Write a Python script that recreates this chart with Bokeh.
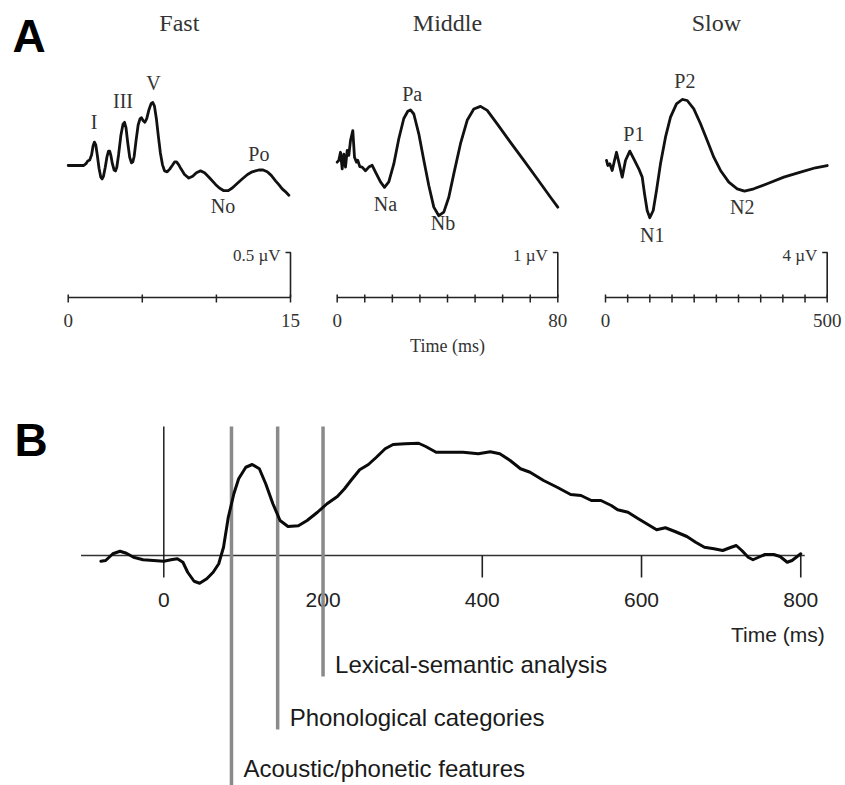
from bokeh.plotting import figure
from bokeh.models import Range1d, Label
from bokeh.core.properties import value
from bokeh.embed import file_html
from bokeh.resources import INLINE

# ---------------- data ----------------
# Panel A - Fast (time in ms, amplitude in µV)
fast_t = [0.00, 1.05, 1.20, 1.32, 1.45, 1.58, 1.68, 1.77, 1.86, 1.96, 2.08, 2.20, 2.29, 2.38,
          2.50, 2.62, 2.72, 2.80, 2.88, 2.98, 3.10, 3.19, 3.28, 3.40, 3.55, 3.70, 3.80, 3.90,
          4.02, 4.15, 4.27, 4.36, 4.45, 4.58, 4.72, 4.85, 4.95, 5.05, 5.17, 5.30, 5.45, 5.60,
          5.71, 5.82, 5.95, 6.08, 6.22, 6.36, 6.50, 6.68, 6.85, 7.02, 7.18, 7.31, 7.45, 7.62,
          7.85, 8.14, 8.40, 8.65, 8.93, 9.20, 9.50, 9.94, 10.20, 10.50, 10.80, 11.07, 11.40,
          11.74, 12.10, 12.42, 12.86, 13.15, 13.43, 13.70, 13.99, 14.20, 14.44, 14.65, 14.89]
fast_v = [0.00, 0.00, 0.02, 0.05, 0.06, 0.12, 0.22, 0.26, 0.23, 0.12, -0.03, -0.13, -0.15, -0.12,
          -0.02, 0.10, 0.16, 0.16, 0.11, 0.02, -0.05, -0.06, -0.02, 0.12, 0.33, 0.46, 0.48, 0.42,
          0.25, 0.09, 0.03, 0.04, 0.10, 0.28, 0.45, 0.52, 0.53, 0.50, 0.48, 0.52, 0.62, 0.69,
          0.70, 0.66, 0.52, 0.33, 0.14, 0.01, -0.06, -0.07, -0.04, 0.00, 0.04, 0.04, 0.01, -0.04,
          -0.10, -0.14, -0.12, -0.08, -0.06, -0.08, -0.13, -0.21, -0.25, -0.28, -0.28, -0.25,
          -0.20, -0.15, -0.10, -0.07, -0.05, -0.05, -0.07, -0.11, -0.17, -0.21, -0.26, -0.29,
          -0.33]
fast_peaks = ["I", "III", "V", "Po", "No"]
fast_peak_t = [1.75, 3.70, 5.76, 12.87, 10.45]
fast_peak_v = [0.39, 0.63, 0.83, 0.04, -0.54]
fast_ticks = [0, 5, 10, 15]
fast_tick_labels = ["0", "", "", "15"]
fast_scale = 0.5
fast_scale_label = "0.5 µV"

# Panel A - Middle
middle_t = [0.0, 0.58, 1.20, 1.81, 2.39, 3.01, 3.63, 4.21, 4.82, 5.66, 6.27, 7.00, 7.47, 8.20,
            9.07, 10.26, 11.46, 12.69, 13.89, 15.70, 17.15, 18.71, 20.53, 22.34, 24.15, 25.60,
            26.58, 27.78, 29.59, 31.41, 33.22, 35.03, 36.84, 38.66, 40.47, 42.28, 44.71, 47.14,
            49.54, 51.97, 54.40, 58.02, 62.85, 67.67, 72.53, 77.35, 80.0]
middle_v = [0.03, 0.07, 0.25, -0.12, 0.21, -0.08, 0.29, 0.18, 0.51, 0.73, 0.14, 0.03, 0.07, -0.07,
            -0.08, -0.16, -0.08, -0.04, -0.19, -0.41, -0.53, -0.41, -0.01, 0.55, 1.00, 1.16,
            1.19, 1.10, 0.66, 0.07, -0.49, -0.97, -1.16, -1.08, -0.75, -0.23, 0.44, 0.96,
            1.21, 1.27, 1.18, 0.88, 0.47, 0.07, -0.34, -0.75, -0.97]
middle_peaks = ["Pa", "Na", "Nb"]
middle_peak_t = [27.2, 17.5, 38.4]
middle_peak_v = [1.36, -1.08, -1.49]
middle_ticks = [0, 10, 20, 30, 40, 50, 60, 70, 80]
middle_tick_labels = ["0", "", "", "", "", "", "", "", "80"]
middle_scale = 1.0
middle_scale_label = "1 µV"

# Panel A - Slow
slow_t = [2.3, 5.2, 9.7, 15.1, 20.3, 24.8, 30.0, 37.7, 45.1, 54.8, 63.8, 75.1, 82.8, 88.0, 94.0,
          99.9, 107.6, 115.0, 124.0, 135.3, 146.6, 160.1, 173.0, 184.3, 199.1, 214.3, 229.4,
          244.2, 259.4, 278.1, 297.0, 313.5, 334.5, 364.7, 402.1, 439.8, 473.6, 500.0]
slow_v = [0.27, -0.18, -0.03, -0.62, 0.27, 1.00, 0.12, -1.21, 0.27, 1.10, 0.41, -0.47, -1.21,
          -2.69, -4.18, -4.82, -4.18, -2.40, -0.03, 2.34, 4.12, 5.30, 5.69, 5.60, 4.86, 3.53,
          2.05, 0.56, -0.62, -1.66, -2.25, -2.46, -2.25, -1.80, -1.21, -0.77, -0.38, -0.18]
slow_peaks = ["P1", "P2", "N1", "N2"]
slow_peak_t = [63.9, 178.9, 105.3, 308.3]
slow_peak_v = [1.89, 6.64, -7.08, -4.62]
slow_ticks = [0, 50, 100, 150, 200, 250, 300, 350, 400, 450, 500]
slow_tick_labels = ["0", "", "", "", "", "", "", "", "", "", "500"]
slow_scale = 4.0
slow_scale_label = "4 µV"

# Panel B (time in ms, amplitude in arbitrary units)
b_t = [-79, -73, -64, -55, -47, -38, -26, -13, 0, 9, 17, 24, 30, 38, 45, 54, 62, 69, 75, 81,
       88, 94, 103, 111, 120, 128, 137, 146, 156, 169, 180, 193, 205, 218, 227, 235, 246, 257,
       267, 278, 288, 303, 320, 329, 342, 359, 376, 395, 410, 422, 435, 448, 460, 477, 494,
       511, 524, 537, 549, 562, 570, 583, 596, 608, 619, 630, 642, 657, 668, 679, 691, 702,
       711, 719, 726, 734, 740, 747, 755, 766, 774, 783, 789, 800]
b_amp = [-0.23, -0.20, 0.07, 0.17, 0.09, -0.07, -0.17, -0.20, -0.23, -0.17, -0.13, -0.27, -0.67,
         -1.03, -1.11, -0.93, -0.67, -0.33, 0.33, 1.53, 2.47, 3.07, 3.53, 3.64, 3.47, 2.87, 2.07,
         1.40, 1.16, 1.19, 1.40, 1.73, 2.07, 2.36, 2.67, 3.00, 3.43, 3.64, 3.93, 4.27, 4.44,
         4.47, 4.49, 4.36, 4.13, 4.13, 4.13, 4.07, 4.15, 4.07, 3.80, 3.47, 3.33, 3.00, 2.73,
         2.44, 2.40, 2.20, 2.20, 2.00, 1.83, 1.73, 1.47, 1.24, 1.03, 1.11, 0.96, 0.76, 0.53,
         0.33, 0.27, 0.20, 0.31, 0.40, 0.20, -0.07, -0.17, -0.07, 0.04, 0.04, -0.04, -0.27,
         -0.20, 0.07]
b_ticks = [0, 200, 400, 600, 800]
b_tick_labels = ["0", "200", "400", "600", "800"]
b_stage_t = [85, 143, 200]
b_stage_labels = ["Acoustic/phonetic features", "Phonological categories",
                  "Lexical-semantic analysis"]

# ---------------- layout (pixels) ----------------
W, H = 845, 785
SERIF = "Liberation Serif"
SANS = "Liberation Sans"


def lift(size):
    """vertical correction (px) so that the text baseline lands where intended"""
    return round(0.4 * size)


# per-panel pixel anchors: a = px of t=0, s = px per time unit, b = py of v=0, k = px per amp unit
GEO = {
    "fast": dict(a=67.7, s=(290.0 - 67.7) / 15, b=165.0, k=90.0),
    "middle": dict(a=336.7, s=(557.3 - 336.7) / 80, b=163.0, k=45.0),
    "slow": dict(a=605.0, s=(826.7 - 605.0) / 500, b=163.0, k=45.0 / 4),
    "b": dict(a=163.3, s=0.7962, b=555.0, k=25.0),
}

p = figure(width=W, height=H, x_range=Range1d(0, W), y_range=Range1d(H, 0),
           output_backend="svg", toolbar_location=None,
           x_axis_location=None, y_axis_location=None, min_border=0)
p.grid.visible = False
p.outline_line_color = None
p.background_fill_color = "white"
p.border_fill_color = "white"

xr, yr = {}, {}
for name, g in GEO.items():
    xr[name] = Range1d(-g["a"] / g["s"], (W - g["a"]) / g["s"])
    yr[name] = Range1d((g["b"] - H) / g["k"], g["b"] / g["k"])
p.extra_x_ranges = xr
p.extra_y_ranges = yr

AX_PY = 297.0      # panel A time axes
TITLE_PY = 32.0
TXT_A = "#333333"


def panel_a(name, t, v, ticks, tick_labels, scale, scale_label, title, pk, pk_t, pk_v):
    g = GEO[name]
    kw = dict(x_range_name=name, y_range_name=name)
    ax_v = (g["b"] - AX_PY) / g["k"]
    # trace
    p.line(t, v, line_color="#111111", line_width=2.8, line_join="round", line_cap="round", **kw)
    # time axis
    p.line([ticks[0], ticks[-1]], [ax_v, ax_v], line_color="#222222", line_width=1.6, **kw)
    up, dn = 3.0 / g["k"], 5.0 / g["k"]
    p.segment(x0=ticks, y0=[ax_v + up] * len(ticks), x1=ticks, y1=[ax_v - dn] * len(ticks),
              line_color="#222222", line_width=1.5, **kw)
    # scale bar with hook
    hook = 5.0 / g["s"]
    p.line([ticks[-1] - hook, ticks[-1], ticks[-1]], [ax_v + scale, ax_v + scale, ax_v],
           line_color="#222222", line_width=1.6, **kw)
    p.text(x=[ticks[-1]], y=[ax_v + scale], text=[scale_label], x_offset=-10,
           y_offset=10 - lift(17), text_align="right", text_baseline="alphabetic",
           text_font=value(SERIF), text_font_size="17px", text_color=TXT_A, **kw)
    # tick labels
    p.text(x=ticks, y=[ax_v] * len(ticks), text=tick_labels, y_offset=31 - lift(19),
           text_align="center", text_baseline="alphabetic", text_font=value(SERIF),
           text_font_size="19px", text_color=TXT_A, **kw)
    # title
    p.text(x=[(ticks[0] + ticks[-1]) / 2], y=[(g["b"] - TITLE_PY) / g["k"]], text=[title],
           y_offset=-lift(24), text_align="center", text_baseline="alphabetic",
           text_font=value(SERIF), text_font_size="24px", text_color=TXT_A, **kw)
    # peak labels
    p.text(x=pk_t, y=pk_v, text=pk, y_offset=-lift(20), text_align="center",
           text_baseline="alphabetic", text_font=value(SERIF), text_font_size="20px",
           text_color=TXT_A, **kw)
    return ax_v


panel_a("fast", fast_t, fast_v, fast_ticks, fast_tick_labels, fast_scale, fast_scale_label,
        "Fast", fast_peaks, fast_peak_t, fast_peak_v)
mid_ax = panel_a("middle", middle_t, middle_v, middle_ticks, middle_tick_labels, middle_scale,
                 middle_scale_label, "Middle", middle_peaks, middle_peak_t, middle_peak_v)
panel_a("slow", slow_t, slow_v, slow_ticks, slow_tick_labels, slow_scale, slow_scale_label,
        "Slow", slow_peaks, slow_peak_t, slow_peak_v)

# shared x-axis title of panel A, under the middle axis
p.text(x=[(middle_ticks[0] + middle_ticks[-1]) / 2], y=[mid_ax], text=["Time (ms)"],
       y_offset=55 - lift(18), text_align="center", text_baseline="alphabetic",
       text_font=value(SERIF), text_font_size="18px", text_color=TXT_A,
       x_range_name="middle", y_range_name="middle")

# ---------------- panel B ----------------
g = GEO["b"]
kb = dict(x_range_name="b", y_range_name="b")
top_v = (g["b"] - 426.0) / g["k"]
tick_len = 22.0 / g["k"]

# baseline and zero line
p.line([b_t[0] - 25, b_ticks[-1] + 5], [0, 0], line_color="#333333", line_width=1.6, **kb)
p.line([0, 0], [top_v, -tick_len], line_color="#111111", line_width=1.4, **kb)
p.segment(x0=b_ticks[1:], y0=[0] * 4, x1=b_ticks[1:], y1=[-tick_len] * 4,
          line_color="#222222", line_width=1.6, **kb)
p.text(x=b_ticks, y=[0] * len(b_ticks), text=b_tick_labels, y_offset=52 - lift(21),
       text_align="center", text_baseline="alphabetic", text_font=value(SANS),
       text_font_size="21px", text_color="#222222", **kb)
p.text(x=[b_ticks[-1]], y=[0], text=["Time (ms)"], x_offset=24, y_offset=87 - lift(21),
       text_align="right", text_baseline="alphabetic", text_font=value(SANS),
       text_font_size="21px", text_color="#222222", **kb)

# processing-stage markers
stage_bottom_py = [790.0, 729.0, 676.0]
stage_label_py = [778.0, 727.0, 674.0]
p.segment(x0=b_stage_t, y0=[top_v] * 3, x1=b_stage_t,
          y1=[(g["b"] - py) / g["k"] for py in stage_bottom_py],
          line_color="#8a8a8a", line_width=3.5, **kb)
p.text(x=b_stage_t, y=[(g["b"] - py) / g["k"] for py in stage_label_py], text=b_stage_labels,
       x_offset=12, y_offset=-lift(24), text_align="left", text_baseline="alphabetic",
       text_font=value(SANS), text_font_size="24px", text_color="#1a1a1a", **kb)

# waveform
p.line(b_t, b_amp, line_color="#0a0a0a", line_width=3, line_join="round", line_cap="round", **kb)

# panel letters
p.add_layout(Label(x=12, y=53 - lift(46), text="A", text_font=SANS, text_font_style="bold",
                   text_font_size="46px", text_color="#000000", text_baseline="alphabetic"))
p.add_layout(Label(x=14, y=457 - lift(46), text="B", text_font=SANS, text_font_style="bold",
                   text_font_size="46px", text_color="#000000", text_baseline="alphabetic"))

open("out.html", "w").write(file_html(p, INLINE))
